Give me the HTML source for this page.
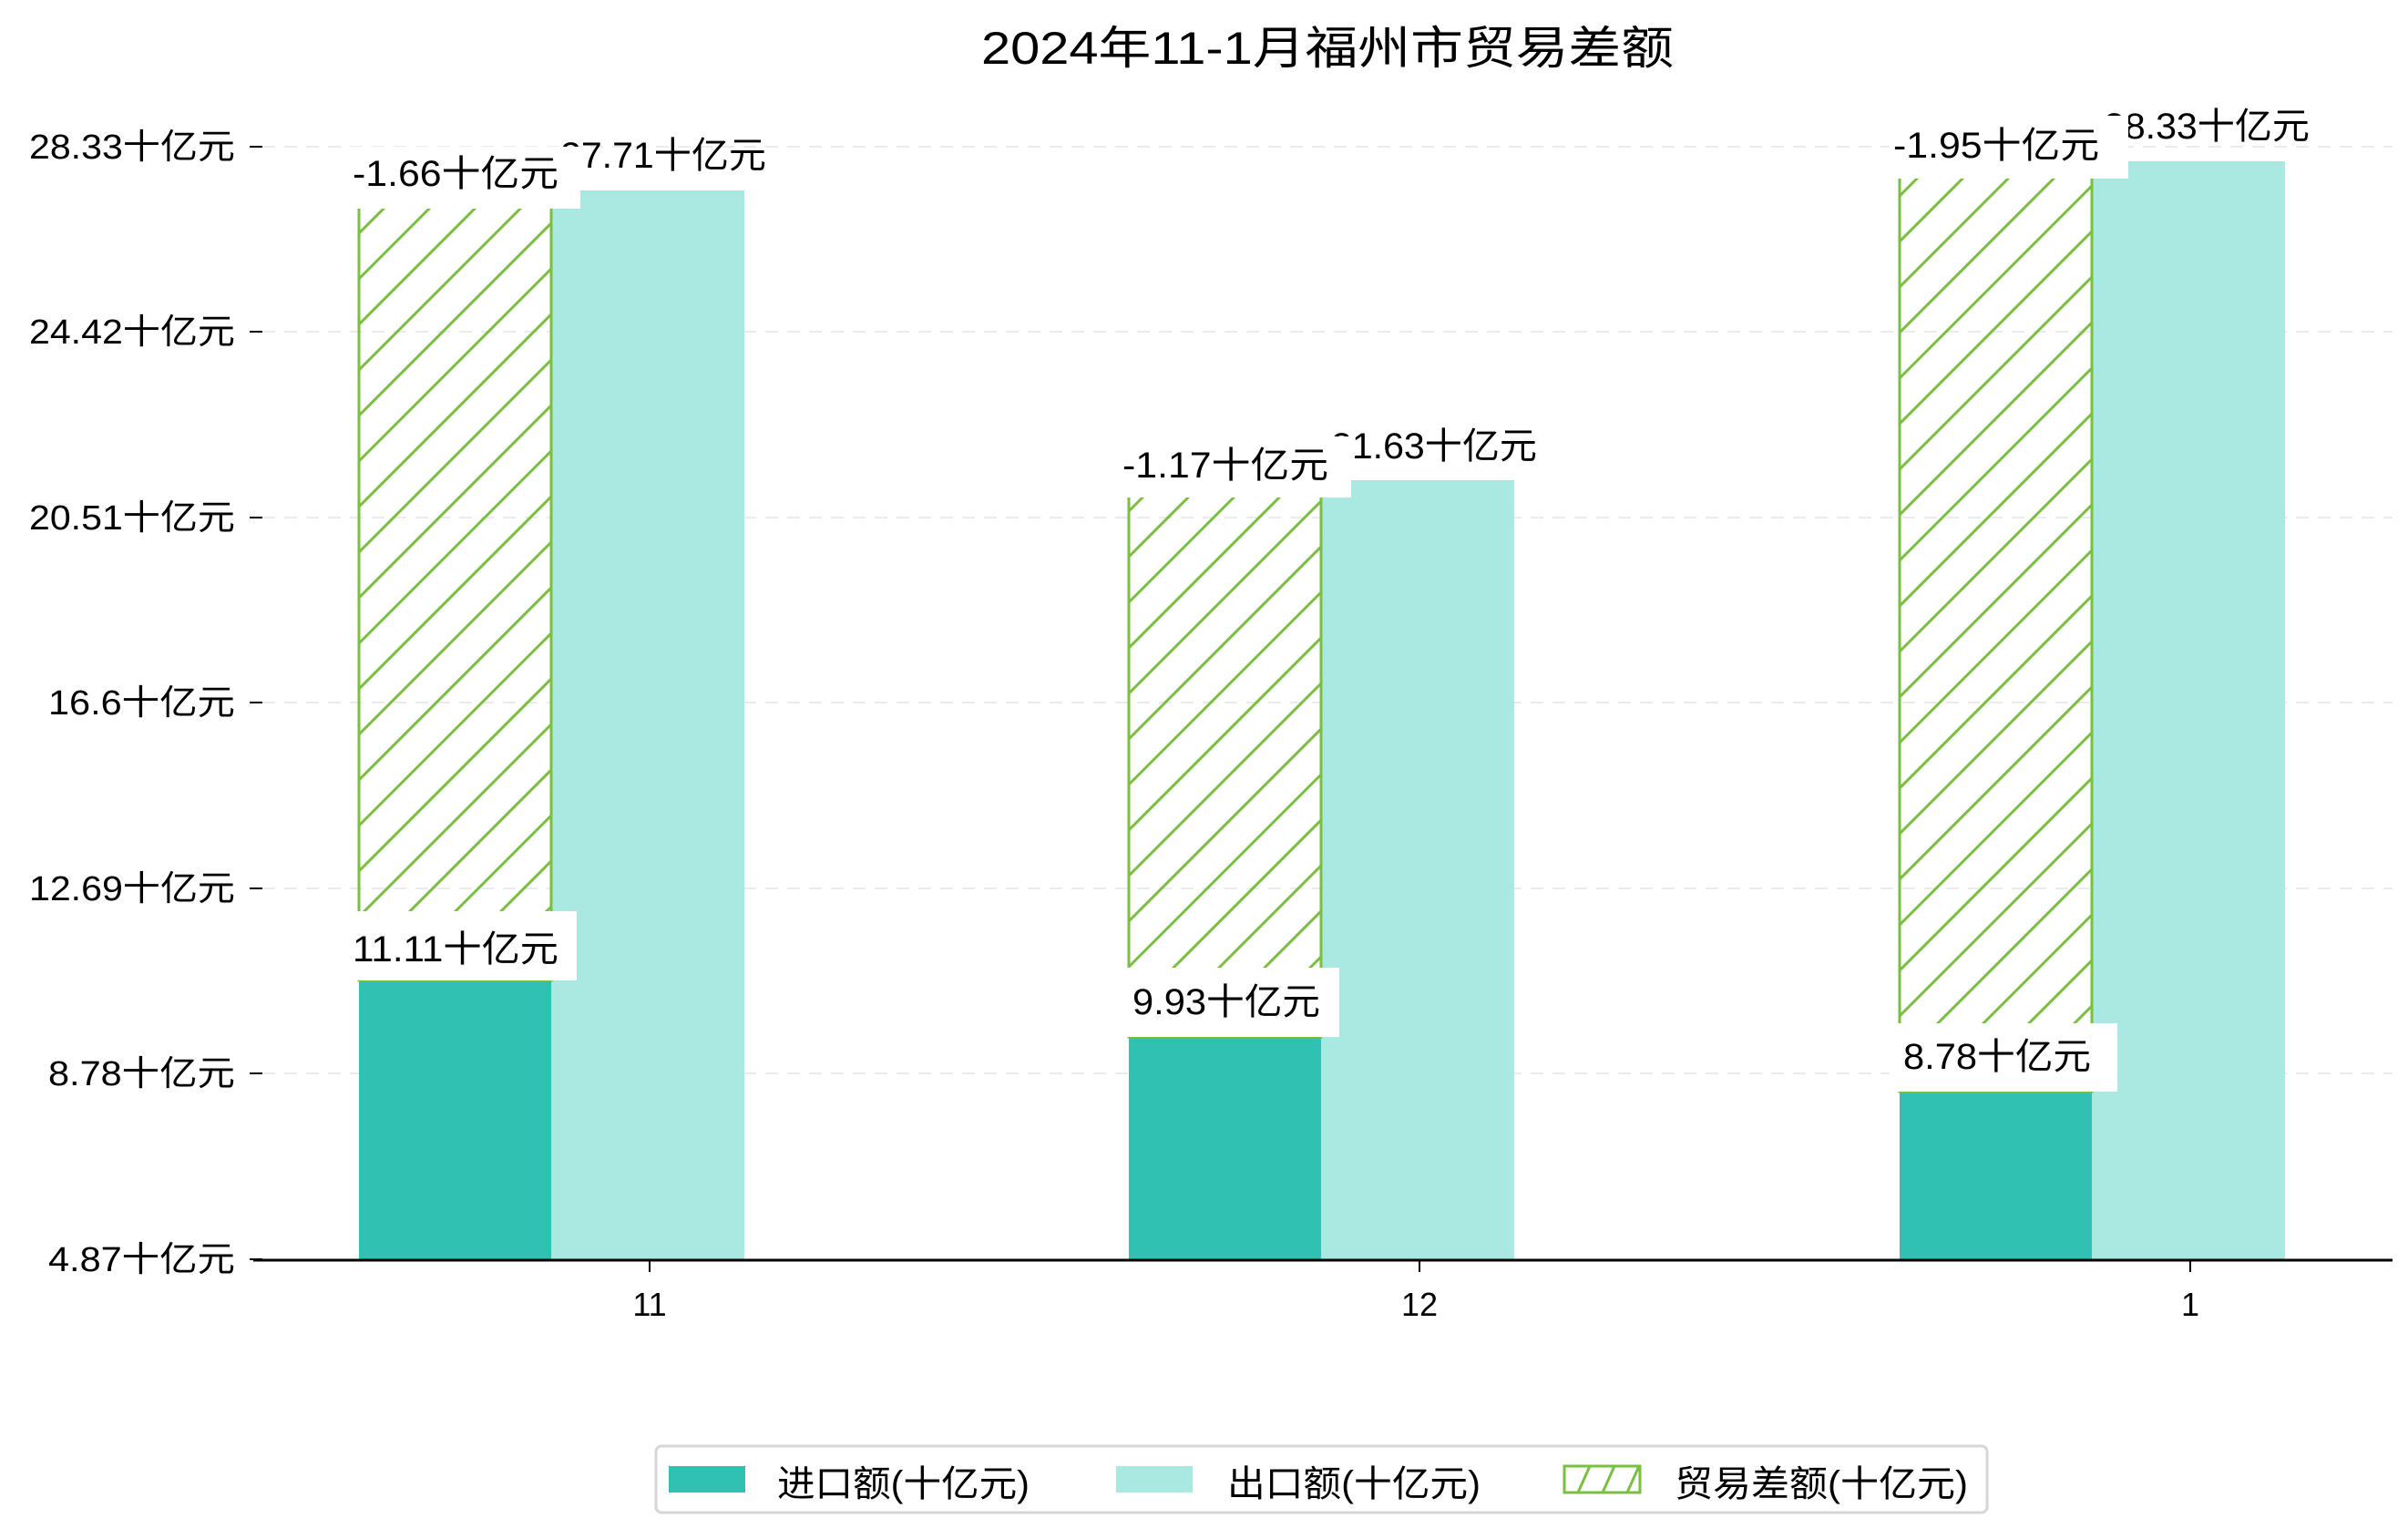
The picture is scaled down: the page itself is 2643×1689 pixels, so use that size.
<!DOCTYPE html>
<html><head><meta charset="utf-8"><style>
html,body{margin:0;padding:0;background:#fff;}
svg{display:block;font-family:"Liberation Sans","Noto Sans CJK SC",sans-serif;}
</style></head><body>
<svg width="2643" height="1689" viewBox="0 0 2643 1689" xmlns="http://www.w3.org/2000/svg">
<defs>
<pattern id="h" patternUnits="userSpaceOnUse" width="50" height="50">
<path d="M-5,55 L55,-5 M-5,5 L5,-5 M45,55 L55,45" stroke="#7abf42" stroke-width="3"/>
</pattern>
</defs>
<rect width="2643" height="1689" fill="#fff"/>
<text x="1457" y="70" font-size="50" text-anchor="middle" textLength="760" lengthAdjust="spacingAndGlyphs">2024年11-1月福州市贸易差额</text>
<g stroke="#ebebeb" stroke-width="2" stroke-dasharray="14,10">
<line x1="288" y1="161" x2="2626" y2="161"/><line x1="288" y1="364" x2="2626" y2="364"/>
<line x1="288" y1="568" x2="2626" y2="568"/><line x1="288" y1="771" x2="2626" y2="771"/>
<line x1="288" y1="975" x2="2626" y2="975"/><line x1="288" y1="1178" x2="2626" y2="1178"/>
</g>
<g font-size="38" text-anchor="end">
<text x="258" y="174" textLength="226" lengthAdjust="spacingAndGlyphs">28.33十亿元</text>
<text x="258" y="377" textLength="226" lengthAdjust="spacingAndGlyphs">24.42十亿元</text>
<text x="258" y="581" textLength="226" lengthAdjust="spacingAndGlyphs">20.51十亿元</text>
<text x="258" y="784" textLength="205" lengthAdjust="spacingAndGlyphs">16.6十亿元</text>
<text x="258" y="988" textLength="226" lengthAdjust="spacingAndGlyphs">12.69十亿元</text>
<text x="258" y="1191" textLength="205" lengthAdjust="spacingAndGlyphs">8.78十亿元</text>
<text x="258" y="1395" textLength="205" lengthAdjust="spacingAndGlyphs">4.87十亿元</text>
</g>
<g stroke="#000" stroke-width="2">
<line x1="274" y1="161" x2="288" y2="161"/><line x1="274" y1="364" x2="288" y2="364"/>
<line x1="274" y1="568" x2="288" y2="568"/><line x1="274" y1="771" x2="288" y2="771"/>
<line x1="274" y1="975" x2="288" y2="975"/><line x1="274" y1="1178" x2="288" y2="1178"/>
<line x1="274" y1="1382" x2="288" y2="1382"/>
</g>
<!-- bars -->
<rect x="394" y="1076" width="211" height="306" fill="#31c1b3"/>
<rect x="605" y="209" width="212" height="1173" fill="#aae8e2"/>
<rect x="394" y="200" width="211" height="876" fill="url(#h)" stroke="#7abf42" stroke-width="3"/>
<rect x="1239" y="1138" width="211" height="244" fill="#31c1b3"/>
<rect x="1450" y="527" width="212" height="855" fill="#aae8e2"/>
<rect x="1239" y="500" width="211" height="638" fill="url(#h)" stroke="#7abf42" stroke-width="3"/>
<rect x="2085" y="1198" width="211" height="184" fill="#31c1b3"/>
<rect x="2296" y="177" width="212" height="1205" fill="#aae8e2"/>
<rect x="2085" y="160" width="211" height="1038" fill="url(#h)" stroke="#7abf42" stroke-width="3"/>
<!-- export labels -->
<g font-size="40" text-anchor="middle">
<text x="728" y="184" textLength="226" lengthAdjust="spacingAndGlyphs">27.71十亿元</text>
<text x="1574" y="503" textLength="226" lengthAdjust="spacingAndGlyphs">21.63十亿元</text>
<text x="2422" y="152" textLength="226" lengthAdjust="spacingAndGlyphs">28.33十亿元</text>
</g>
<!-- boxed labels -->
<g fill="#fff">
<rect x="376" y="161" width="261" height="68"/>
<rect x="376" y="1000" width="257" height="76"/>
<rect x="1219" y="479" width="264" height="67"/>
<rect x="1229" y="1062" width="241" height="76"/>
<rect x="2074" y="127" width="262" height="69"/>
<rect x="2074" y="1123" width="250" height="75"/>
</g>
<g font-size="40" text-anchor="middle">
<text x="500" y="204" textLength="226" lengthAdjust="spacingAndGlyphs">-1.66十亿元</text>
<text x="500" y="1055" textLength="226" lengthAdjust="spacingAndGlyphs">11.11十亿元</text>
<text x="1345" y="524" textLength="226" lengthAdjust="spacingAndGlyphs">-1.17十亿元</text>
<text x="1346" y="1113" textLength="206" lengthAdjust="spacingAndGlyphs">9.93十亿元</text>
<text x="2191" y="173" textLength="226" lengthAdjust="spacingAndGlyphs">-1.95十亿元</text>
<text x="2192" y="1173" textLength="206" lengthAdjust="spacingAndGlyphs">8.78十亿元</text>
</g>
<line x1="278" y1="1383" x2="2626" y2="1383" stroke="#000" stroke-width="3"/>
<g stroke="#000" stroke-width="2">
<line x1="713" y1="1383" x2="713" y2="1396"/><line x1="1558" y1="1383" x2="1558" y2="1396"/><line x1="2404" y1="1383" x2="2404" y2="1396"/>
</g>
<g font-size="36" text-anchor="middle">
<text x="713" y="1444">11</text><text x="1558" y="1444">12</text><text x="2404" y="1444">1</text>
</g>
<!-- legend -->
<rect x="720" y="1587" width="1461" height="73" rx="6" fill="#fff" stroke="#d6d6d6" stroke-width="3"/>
<rect x="734" y="1609" width="84" height="29" fill="#31c1b3"/>
<rect x="1225" y="1609" width="84" height="29" fill="#aae8e2"/>
<rect x="1717" y="1609" width="83" height="29" fill="#fff" stroke="#7abf42" stroke-width="3"/>
<path d="M1732,1638 L1745,1609 M1759,1638 L1772,1609 M1786,1638 L1799,1609" stroke="#7abf42" stroke-width="3"/>
<g font-size="40">
<text x="853" y="1642" textLength="277" lengthAdjust="spacingAndGlyphs">进口额(十亿元)</text>
<text x="1347" y="1642" textLength="278" lengthAdjust="spacingAndGlyphs">出口额(十亿元)</text>
<text x="1838" y="1642" textLength="322" lengthAdjust="spacingAndGlyphs">贸易差额(十亿元)</text>
</g>
</svg>
</body></html>
